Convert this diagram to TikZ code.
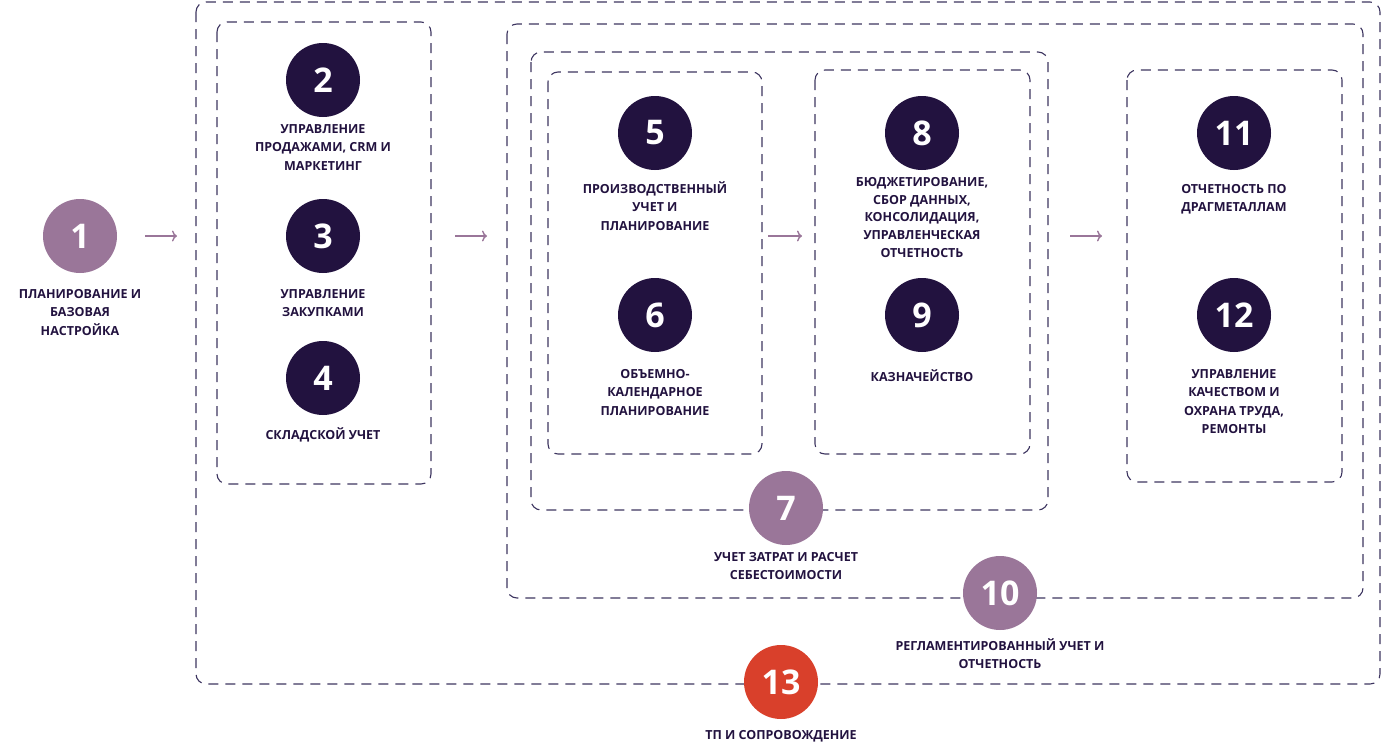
\documentclass[tikz,border=0pt]{standalone}
\usepackage{fontspec}
\setmainfont{Open Sans}
\usetikzlibrary{positioning,arrows.meta}
\definecolor{ink}{HTML}{22123F}
\definecolor{lilac}{HTML}{9A7699}
\definecolor{brick}{HTML}{D9402B}
\definecolor{frame}{HTML}{3D3560}
\tikzset{
  badge/.style={circle,fill=ink,minimum size=74pt,inner sep=0pt,text=white,
    font=\fontsize{34}{34}\selectfont\bfseries},
  badgeL/.style={badge,fill=lilac},
  badgeR/.style={badge,fill=brick},
  caption/.style={align=center,text=ink,anchor=north,inner sep=0pt,
    font=\fontsize{12.5}{18.5}\selectfont\bfseries},
  zone/.style={draw=frame,line width=1.1pt,dash pattern=on 10pt off 7pt,rounded corners=10pt},
  flow/.style={draw=lilac,line width=1.4pt,-{To[length=5pt,width=11pt]}}
}
\begin{document}
\begin{tikzpicture}[x=1pt,y=-1pt]
  \useasboundingbox (0,0) rectangle (1381,750);
  % frames
  \draw[zone] (196,2) rectangle (1380,684);
  \draw[zone] (217,22) rectangle (431,484);
  \draw[zone] (507,24) rectangle (1363,598);
  \draw[zone] (531,52) rectangle (1048,510);
  \draw[zone] (548,72) rectangle (762,454);
  \draw[zone] (815,70) rectangle (1030,454);
  \draw[zone] (1127,70) rectangle (1342,482);
  % badges
  \node[badgeL] (s1) at (80,236) {1};
  \node[badge] (s2) at (323,80) {2};
  \node[badge] (s3) at (323,236) {3};
  \node[badge] (s4) at (323,378) {4};
  \node[badge] (s5) at (655,133) {5};
  \node[badge] (s6) at (655,315) {6};
  \node[badgeL] (s7) at (786,508) {7};
  \node[badge] (s8) at (922,133) {8};
  \node[badge] (s9) at (922,315) {9};
  \node[badgeL] (s10) at (1000,593) {10};
  \node[badge] (s11) at (1234,133) {11};
  \node[badge] (s12) at (1234,315) {12};
  \node[badgeR] (s13) at (781,682) {13};
  % captions
  \node[caption] (c1) at (80,289) {ПЛАНИРОВАНИЕ И\\БАЗОВАЯ\\НАСТРОЙКА};
  \node[caption] (c2) at (323,124) {УПРАВЛЕНИЕ\\ПРОДАЖАМИ, CRM И\\МАРКЕТИНГ};
  \node[caption] (c3) at (323,289) {УПРАВЛЕНИЕ\\ЗАКУПКАМИ};
  \node[caption] (c4) at (323,427) {СКЛАДСКОЙ УЧЕТ};
  \node[caption] (c5) at (655,181) {ПРОИЗВОДСТВЕННЫЙ\\УЧЕТ И\\ПЛАНИРОВАНИЕ};
  \node[caption] (c6) at (655,369) {ОБЪЕМНО-\\КАЛЕНДАРНОЕ\\ПЛАНИРОВАНИЕ};
  \node[caption,font=\fontsize{12.5}{17.8}\selectfont\bfseries] (c8) at (922,177)
    {БЮДЖЕТИРОВАНИЕ,\\СБОР ДАННЫХ,\\КОНСОЛИДАЦИЯ,\\УПРАВЛЕНЧЕСКАЯ\\ОТЧЕТНОСТЬ};
  \node[caption] (c9) at (922,369) {КАЗНАЧЕЙСТВО};
  \node[caption] (c11) at (1234,184) {ОТЧЕТНОСТЬ ПО\\ДРАГМЕТАЛЛАМ};
  \node[caption] (c12) at (1234,369) {УПРАВЛЕНИЕ\\КАЧЕСТВОМ И\\ОХРАНА ТРУДА,\\РЕМОНТЫ};
  \node[caption] (c7) at (786,552) {УЧЕТ ЗАТРАТ И РАСЧЕТ\\СЕБЕСТОИМОСТИ};
  \node[caption] (c10) at (1000,638) {РЕГЛАМЕНТИРОВАННЫЙ УЧЕТ И\\ОТЧЕТНОСТЬ};
  \node[caption] (c13) at (781,730) {ТП И СОПРОВОЖДЕНИЕ};
  % arrows
  \foreach \a/\b in {145/177,455/487,768/802,1070/1102}
    \draw[flow] (\a,236) coordinate (f\a) -- (\b,236) coordinate (t\a);
\end{tikzpicture}
\end{document}
